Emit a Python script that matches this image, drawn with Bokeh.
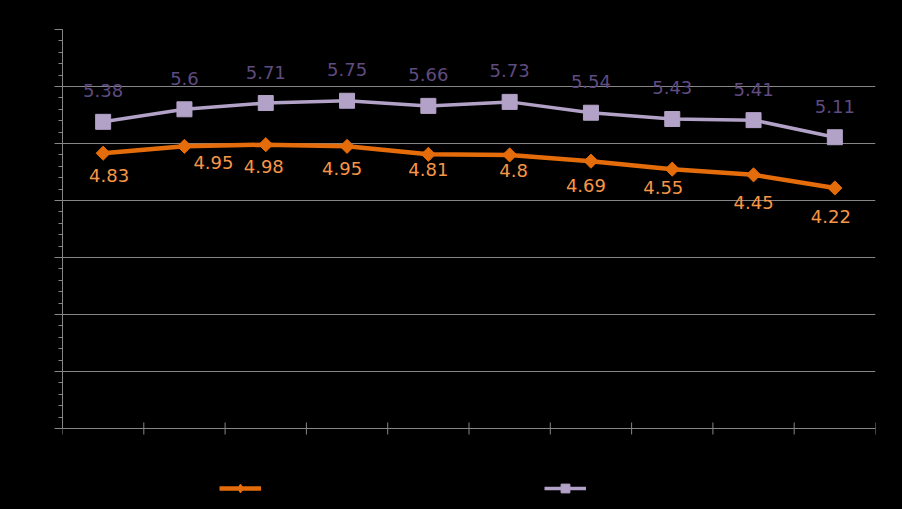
from bokeh.plotting import figure
from bokeh.models import (Range1d, FixedTicker, ColumnDataSource, Legend, LegendItem)
from bokeh.core.properties import value
from bokeh.embed import file_html
from bokeh.resources import INLINE
import math

# ---- data ----
categories = ["1", "2", "3", "4", "5", "6", "7", "8", "9", "10"]
series_names = ["Series 1", "Series 2"]
orange_values = [4.83, 4.95, 4.98, 4.95, 4.81, 4.80, 4.69, 4.55, 4.45, 4.22]
purple_values = [5.38, 5.60, 5.71, 5.75, 5.66, 5.73, 5.54, 5.43, 5.41, 5.11]
y_ticks = [0, 1, 2, 3, 4, 5, 6, 7]

# label nudges in screen pixels (layout only)
orange_dx = [6, 29, -2, -5, 0, 4, -5, -9, 0, -4]
orange_dy = [22, 16, 22, 22, 15, 16, 24, 18, 28, 29]

ORANGE = "#E46C0A"
ORANGE_TXT = "#F79646"
PURPLE = "#B3A2C7"
PURPLE_TXT = "#5F4B80"
GRID = "#868686"

n = len(categories)
x = [i + 0.5 for i in range(n)]
x_bounds = list(range(n + 1))          # category boundaries (tick marks)

src_o = ColumnDataSource(dict(x=x, y=orange_values,
                              t=[f"{v:g}" for v in orange_values],
                              dx=orange_dx, dy=orange_dy))
src_p = ColumnDataSource(dict(x=x, y=purple_values,
                              t=[f"{v:g}" for v in purple_values]))
src_t = ColumnDataSource(dict(x=x_bounds, y=[0] * len(x_bounds)))

# plotting area: value axis 0..7 takes 399 px; frame continues below it
PLOT_H = 399
FRAME_H = 478
y_max = y_ticks[-1]
y_min = y_max - FRAME_H * y_max / PLOT_H

p = figure(frame_width=813, frame_height=FRAME_H,
           x_range=Range1d(0, n), y_range=Range1d(y_min, y_max),
           output_backend="svg", toolbar_location=None,
           background_fill_color="black", border_fill_color="black",
           outline_line_color=None,
           min_border_left=62, min_border_right=27,
           min_border_top=29, min_border_bottom=0)

p.xaxis.visible = False

p.yaxis.ticker = FixedTicker(ticks=y_ticks,
                             minor_ticks=[round(i * 0.2, 1) for i in range(36)])
p.yaxis.bounds = (0, y_max)
p.yaxis.axis_line_color = GRID
p.yaxis.major_tick_line_color = GRID
p.yaxis.minor_tick_line_color = GRID
p.yaxis.major_tick_in = 0
p.yaxis.major_tick_out = 8
p.yaxis.minor_tick_in = 0
p.yaxis.minor_tick_out = 4
p.yaxis.major_label_text_color = "black"

p.xgrid.visible = False
p.ygrid.grid_line_color = GRID
p.ygrid.grid_line_width = 1

# category axis tick marks at the boundaries (y = 0 line is the grid line at 0)
p.scatter("x", "y", source=src_t, marker="dash", angle=math.pi / 2, size=12,
          line_color=GRID, line_width=1)

# series
pl = p.line("x", "y", source=src_p, line_color=PURPLE, line_width=3.5)
pm = p.scatter("x", "y", source=src_p, marker="square", size=15,
               fill_color=PURPLE, line_color=PURPLE)
ol = p.line("x", "y", source=src_o, line_color=ORANGE, line_width=4.5)
om = p.scatter("x", "y", source=src_o, marker="square", angle=math.pi / 4,
               size=10, fill_color=ORANGE, line_color=ORANGE)
# legend-only marker (diamond shape in the key)
om_key = p.scatter("x", "y", source=src_o, marker="diamond", size=10,
                   fill_color=ORANGE, line_color=ORANGE, visible=False)

# data labels
p.text("x", "y", text="t", source=src_p, y_offset=-31,
       text_align="center", text_baseline="middle",
       text_font=value("DejaVu Sans"), text_font_size="18px",
       text_color=PURPLE_TXT)
p.text("x", "y", text="t", source=src_o, x_offset="dx", y_offset="dy",
       text_align="center", text_baseline="middle",
       text_font=value("DejaVu Sans"), text_font_size="18px",
       text_color=ORANGE_TXT)

legend = Legend(items=[LegendItem(label=series_names[0], renderers=[ol, om_key]),
                       LegendItem(label=series_names[1], renderers=[pl, pm])],
                orientation="horizontal", location=(157, 8),
                glyph_width=42, glyph_height=22, label_height=22,
                label_standoff=5, label_width=258, spacing=20,
                padding=0, margin=0,
                label_text_color="black", label_text_font_size="14px",
                background_fill_alpha=0, border_line_alpha=0)
p.add_layout(legend)

html = file_html(p, INLINE)
html = html.replace("</head>", "<style>html,body{background:#000000;}</style></head>", 1)
open("out.html", "w").write(html)
